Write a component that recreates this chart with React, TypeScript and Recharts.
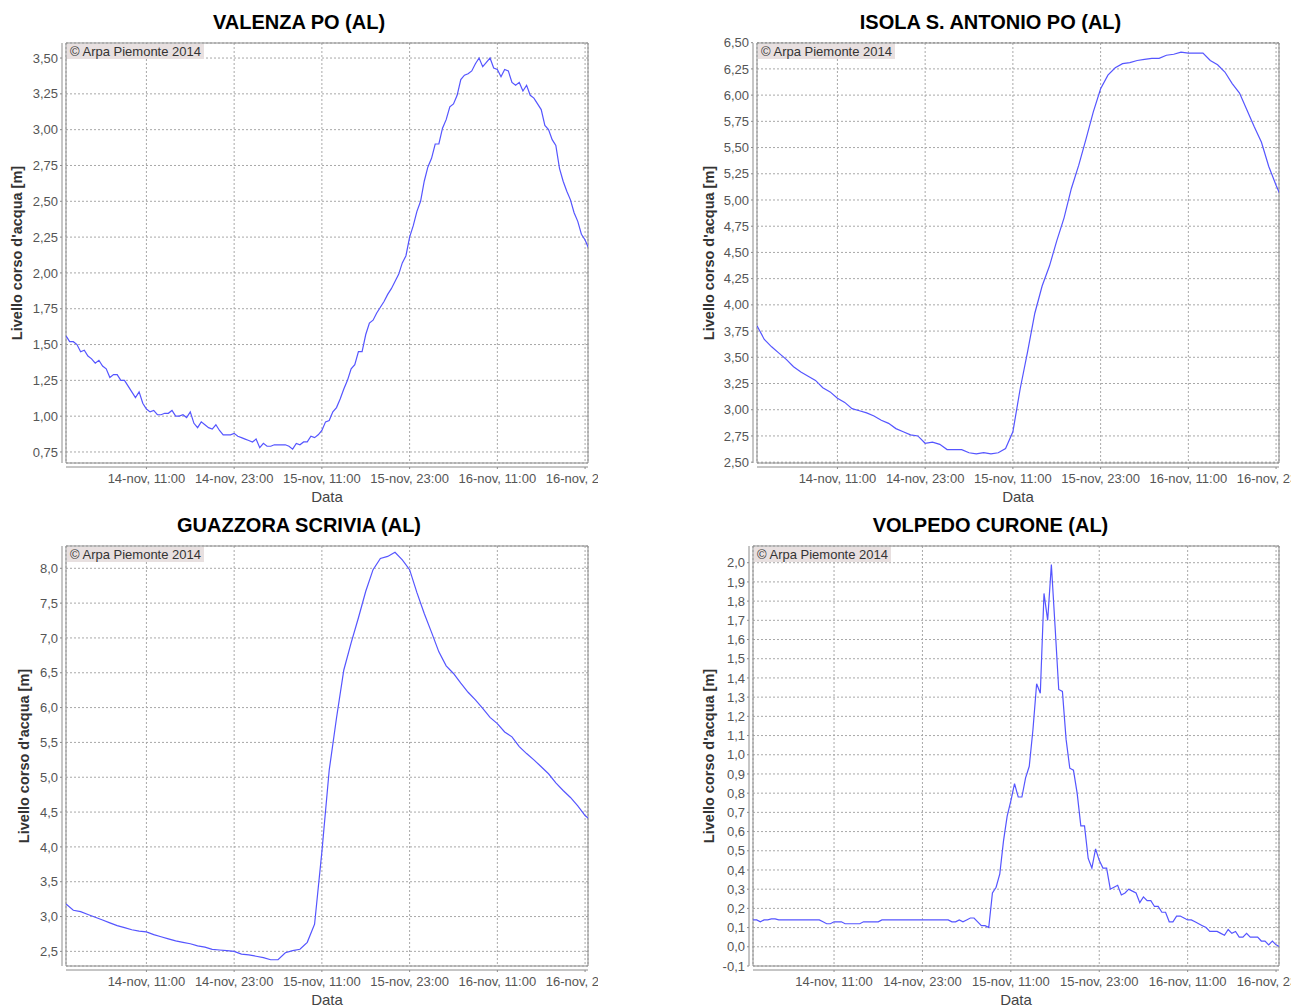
import React from 'react';
import { LineChart, Line, XAxis, YAxis, CartesianGrid, ReferenceArea } from 'recharts';

// ore dal 14-nov 00:00
const X_TICKS = [11, 23, 35, 47, 59, 71];
const X_TICK_LABELS = ['14-nov, 11:00', '14-nov, 23:00', '15-nov, 11:00', '15-nov, 23:00', '16-nov, 11:00', '16-nov, 23:00'];
const X_MAX = 71.4;

// Valenza Po, un valore ogni 30 minuti
const VALENZA = [
  1.56, 1.52, 1.52, 1.50, 1.45, 1.46, 1.42, 1.40, 1.37, 1.39,
  1.35, 1.33, 1.27, 1.29, 1.29, 1.25, 1.25, 1.21, 1.17, 1.13,
  1.17, 1.09, 1.05, 1.03, 1.04, 1.01, 1.01, 1.02, 1.02, 1.04,
  1.00, 1.00, 1.01, 0.99, 1.03, 0.95, 0.92, 0.96, 0.94, 0.92,
  0.91, 0.94, 0.90, 0.87, 0.87, 0.87, 0.88, 0.86, 0.85, 0.84,
  0.83, 0.82, 0.84, 0.78, 0.81, 0.79, 0.79, 0.80, 0.80, 0.80,
  0.80, 0.79, 0.77, 0.81, 0.80, 0.82, 0.82, 0.86, 0.85, 0.87,
  0.90, 0.96, 0.97, 1.03, 1.06, 1.12, 1.19, 1.25, 1.33, 1.36,
  1.45, 1.45, 1.57, 1.65, 1.67, 1.72, 1.76, 1.80, 1.85, 1.89,
  1.94, 1.99, 2.07, 2.12, 2.25, 2.33, 2.43, 2.50, 2.64, 2.74,
  2.80, 2.90, 2.90, 3.01, 3.07, 3.16, 3.18, 3.24, 3.35, 3.38,
  3.39, 3.41, 3.46, 3.50, 3.44, 3.47, 3.50, 3.43, 3.42, 3.37,
  3.42, 3.41, 3.33, 3.31, 3.33, 3.27, 3.31, 3.24, 3.22, 3.18,
  3.14, 3.03, 3.00, 2.93, 2.89, 2.73, 2.64, 2.57, 2.51, 2.42,
  2.36, 2.27, 2.23, 2.17,
];

// Isola S. Antonio, valori orari
const ISOLA = [
  3.80, 3.67, 3.60, 3.54, 3.48, 3.41, 3.36, 3.32, 3.28, 3.21,
  3.17, 3.11, 3.07, 3.01, 2.99, 2.97, 2.94, 2.90, 2.87, 2.82,
  2.79, 2.76, 2.75, 2.68, 2.69, 2.67, 2.62, 2.62, 2.62, 2.59,
  2.58, 2.59, 2.58, 2.59, 2.63, 2.79, 3.20, 3.55, 3.92, 4.18,
  4.37, 4.61, 4.83, 5.11, 5.33, 5.58, 5.84, 6.06, 6.19, 6.26,
  6.30, 6.31, 6.33, 6.34, 6.35, 6.35, 6.38, 6.39, 6.41, 6.40,
  6.40, 6.40, 6.33, 6.29, 6.22, 6.11, 6.02, 5.86, 5.70, 5.55,
  5.32, 5.14, 4.98,
];

// Guazzora, valori orari
const GUAZZORA = [
  3.18, 3.09, 3.07, 3.03, 2.99, 2.95, 2.91, 2.87, 2.84, 2.81,
  2.79, 2.78, 2.74, 2.71, 2.68, 2.65, 2.63, 2.61, 2.58, 2.56,
  2.53, 2.52, 2.51, 2.50, 2.46, 2.45, 2.43, 2.41, 2.38, 2.38,
  2.48, 2.51, 2.53, 2.63, 2.89, 3.93, 5.10, 5.85, 6.54, 6.93,
  7.29, 7.67, 7.98, 8.14, 8.17, 8.23, 8.12, 7.98, 7.65, 7.35,
  7.08, 6.80, 6.60, 6.49, 6.35, 6.22, 6.11, 5.99, 5.86, 5.77,
  5.65, 5.58, 5.44, 5.34, 5.25, 5.15, 5.05, 4.92, 4.81, 4.71,
  4.59, 4.45, 4.36,
];

// Volpedo, un valore ogni 30 minuti
const VOLPEDO = [
  0.14, 0.14, 0.13, 0.14, 0.14, 0.145, 0.145, 0.14, 0.14, 0.14,
  0.14, 0.14, 0.14, 0.14, 0.14, 0.14, 0.14, 0.14, 0.14, 0.13,
  0.12, 0.12, 0.13, 0.13, 0.13, 0.12, 0.12, 0.12, 0.12, 0.12,
  0.13, 0.13, 0.13, 0.13, 0.13, 0.14, 0.14, 0.14, 0.14, 0.14,
  0.14, 0.14, 0.14, 0.14, 0.14, 0.14, 0.14, 0.14, 0.14, 0.14,
  0.14, 0.14, 0.14, 0.14, 0.13, 0.13, 0.14, 0.13, 0.14, 0.15,
  0.15, 0.13, 0.11, 0.11, 0.10, 0.28, 0.31, 0.38, 0.55, 0.68,
  0.76, 0.85, 0.78, 0.78, 0.88, 0.94, 1.13, 1.37, 1.32, 1.84,
  1.70, 1.99, 1.67, 1.34, 1.33, 1.08, 0.93, 0.92, 0.80, 0.63,
  0.63, 0.46, 0.41, 0.51, 0.45, 0.41, 0.41, 0.30, 0.31, 0.32,
  0.27, 0.28, 0.30, 0.29, 0.28, 0.23, 0.26, 0.24, 0.24, 0.21,
  0.21, 0.18, 0.18, 0.13, 0.13, 0.16, 0.16, 0.15, 0.14, 0.14,
  0.13, 0.12, 0.11, 0.10, 0.08, 0.08, 0.08, 0.07, 0.06, 0.09,
  0.07, 0.08, 0.05, 0.05, 0.07, 0.05, 0.05, 0.05, 0.03, 0.03,
  0.01, 0.03, 0.01, 0.00,
];

const VALENZA_Y_TICKS = [0.75, 1.0, 1.25, 1.5, 1.75, 2.0, 2.25, 2.5, 2.75, 3.0, 3.25, 3.5];
const ISOLA_Y_TICKS = [2.5, 2.75, 3.0, 3.25, 3.5, 3.75, 4.0, 4.25, 4.5, 4.75, 5.0, 5.25, 5.5, 5.75, 6.0, 6.25, 6.5];
const GUAZZORA_Y_TICKS = [2.5, 3.0, 3.5, 4.0, 4.5, 5.0, 5.5, 6.0, 6.5, 7.0, 7.5, 8.0];
const VOLPEDO_Y_TICKS = [
  -0.1, 0.0, 0.1, 0.2, 0.3, 0.4, 0.5, 0.6, 0.7, 0.8, 0.9,
  1.0, 1.1, 1.2, 1.3, 1.4, 1.5, 1.6, 1.7, 1.8, 1.9, 2.0,
];

const FONT = '"Liberation Sans", Arial, sans-serif';
const GRID = '#a8a8a8';
const AXIS = '#8c8c8c';
const LINE = '#5555ff';

const toRows = (values: number[], step: number) => values.map((v, i) => ({ t: i * step, v }));
const fmtX = (v: number) => X_TICK_LABELS[X_TICKS.indexOf(v)] ?? '';

interface PanelProps {
  title: string;
  data: { t: number; v: number }[];
  yDomain: [number, number];
  yTicks: number[];
  decimals: number;
  left: number;
  top: number;
  width: number;
  marginLeft: number;
  marginRight: number;
  labelOffset: number;
}

const PLOT_TOP = 8;
const PLOT_H = 420;
const XAXIS_H = 41;
const Y_W = 60;

const Panel: React.FC<PanelProps> = ({
  title, data, yDomain, yTicks, decimals, left, top, width, marginLeft, marginRight, labelOffset,
}) => {
  const height = PLOT_TOP + PLOT_H + XAXIS_H;
  return (
    <div style={{ position: 'absolute', left, top, width, height: height + 35 }}>
      <div
        style={{
          position: 'absolute', left: 0, top: 10, width, height: 24, lineHeight: '24px',
          textAlign: 'center', fontSize: 20, fontWeight: 'bold', color: '#000', fontFamily: FONT,
        }}
      >
        {title}
      </div>
      <div style={{ position: 'absolute', left: 0, top: 35, width, height, overflow: 'hidden' }}>
        <LineChart
          width={width}
          height={height}
          data={data}
          margin={{ top: PLOT_TOP, right: marginRight, left: marginLeft, bottom: 0 }}
        >
          <CartesianGrid stroke={GRID} strokeDasharray="2 2" />
          <XAxis
            dataKey="t"
            type="number"
            domain={[0, X_MAX]}
            allowDataOverflow
            ticks={X_TICKS}
            interval={0}
            tickFormatter={fmtX}
            height={XAXIS_H}
            tickSize={2}
            tickMargin={9}
            axisLine={{ stroke: AXIS, transform: 'translate(0,4)' }}
            tickLine={{ stroke: AXIS, transform: 'translate(0,4)' }}
            tick={{ fill: '#555', fontSize: 13, fontFamily: FONT }}
            label={{ value: 'Data', position: 'insideBottom', offset: 2, fill: '#444', fontSize: 15, fontFamily: FONT }}
          />
          <YAxis
            type="number"
            domain={yDomain}
            allowDataOverflow
            ticks={yTicks}
            interval={0}
            width={Y_W}
            tickFormatter={(v: number) => v.toFixed(decimals).replace('.', ',')}
            tickSize={2}
            tickMargin={6}
            axisLine={{ stroke: AXIS, transform: 'translate(-4,0)' }}
            tickLine={{ stroke: AXIS, transform: 'translate(-4,0)' }}
            tick={{ fill: '#555', fontSize: 13, fontFamily: FONT }}
            label={{
              value: "Livello corso d'acqua [m]",
              angle: -90,
              position: 'insideLeft',
              offset: labelOffset,
              style: { textAnchor: 'middle' },
              fill: '#333',
              fontSize: 14.5,
              fontWeight: 'bold',
              fontFamily: FONT,
            }}
          />
          <ReferenceArea x1={0} x2={X_MAX} y1={yDomain[0]} y2={yDomain[1]} fill="none" stroke={AXIS} />
          <Line
            type="linear"
            dataKey="v"
            stroke={LINE}
            strokeWidth={1.2}
            dot={false}
            activeDot={false}
            isAnimationActive={false}
          />
        </LineChart>
      </div>
      <div
        style={{
          position: 'absolute', left: marginLeft + Y_W + 1, top: 35 + PLOT_TOP + 1,
          padding: '0 3px', height: 15, lineHeight: '15px', fontSize: 13, color: '#333',
          background: '#e8e0e0', fontFamily: FONT, whiteSpace: 'nowrap',
        }}
      >
        © Arpa Piemonte 2014
      </div>
    </div>
  );
};

export default function App() {
  return (
    <div
      style={{
        position: 'absolute', left: 0, top: 0, width: 1291, height: 1005,
        overflow: 'hidden', background: '#fff', fontFamily: FONT,
      }}
    >
      <Panel
        title="VALENZA PO (AL)"
        data={toRows(VALENZA, 0.5)}
        yDomain={[0.673, 3.605]}
        yTicks={VALENZA_Y_TICKS}
        decimals={2}
        left={0}
        top={0}
        width={598}
        marginLeft={6}
        marginRight={10}
        labelOffset={11}
      />
      <Panel
        title="ISOLA S. ANTONIO PO (AL)"
        data={toRows(ISOLA, 1)}
        yDomain={[2.492, 6.497]}
        yTicks={ISOLA_Y_TICKS}
        decimals={2}
        left={690}
        top={0}
        width={601}
        marginLeft={7}
        marginRight={12}
        labelOffset={12}
      />
      <Panel
        title="GUAZZORA SCRIVIA (AL)"
        data={toRows(GUAZZORA, 1)}
        yDomain={[2.29, 8.32]}
        yTicks={GUAZZORA_Y_TICKS}
        decimals={1}
        left={0}
        top={503}
        width={598}
        marginLeft={6}
        marginRight={10}
        labelOffset={18}
      />
      <Panel
        title="VOLPEDO CURONE (AL)"
        data={toRows(VOLPEDO, 0.5)}
        yDomain={[-0.1, 2.087]}
        yTicks={VOLPEDO_Y_TICKS}
        decimals={1}
        left={690}
        top={503}
        width={601}
        marginLeft={3}
        marginRight={12}
        labelOffset={16}
      />
    </div>
  );
}
